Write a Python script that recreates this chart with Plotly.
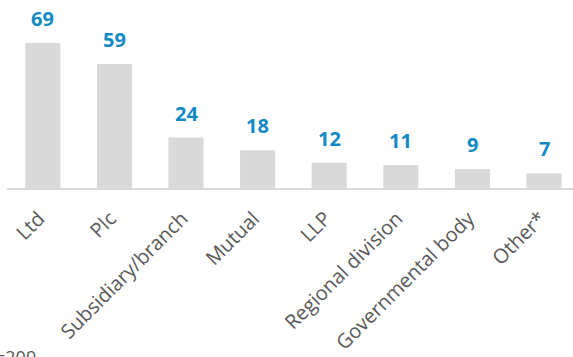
import plotly.graph_objects as go

categories = ["Ltd", "Plc", "Subsidiary/branch", "Mutual", "LLP",
              "Regional division", "Governmental body", "Other*"]
counts = [69, 59, 24, 18, 12, 11, 9, 7]
sample_note = "n=209"

bar_color = "#d9d9d9"
label_color = "#1289c4"
text_color = "#595959"
font_family = "Open Sans"

fig = go.Figure(
    go.Bar(
        x=categories,
        y=counts,
        marker=dict(color=bar_color, line=dict(width=0)),
        hoverinfo="skip",
    )
)

# value labels floating above each bar
for cat, val in zip(categories, counts):
    fig.add_annotation(
        x=cat, y=val, xref="x", yref="y",
        text=f"<b>{val}</b>", showarrow=False,
        yanchor="bottom", yshift=9,
        font=dict(family=font_family, size=20, color=label_color),
    )

fig.add_annotation(
    x=-0.045, y=-0.92, xref="paper", yref="paper",
    xanchor="left", yanchor="top", text=sample_note, showarrow=False,
    font=dict(family=font_family, size=18, color=text_color),
)

fig.update_layout(
    width=573, height=357,
    margin=dict(l=7, r=0, t=20, b=169),
    paper_bgcolor="white", plot_bgcolor="white",
    bargap=0.51,
    showlegend=False,
    xaxis=dict(
        range=[-0.5, 7.405],
        showline=True, linecolor=bar_color, linewidth=2,
        ticks="", tickangle=-45,
        ticklabelstandoff=9, ticklabelshift=-4,
        tickfont=dict(family=font_family, size=20, color=text_color),
        showgrid=False, zeroline=False, fixedrange=True,
    ),
    yaxis=dict(
        range=[0, 80], visible=False, showgrid=False, zeroline=False,
        fixedrange=True,
    ),
)

fig.write_html("out.html")
